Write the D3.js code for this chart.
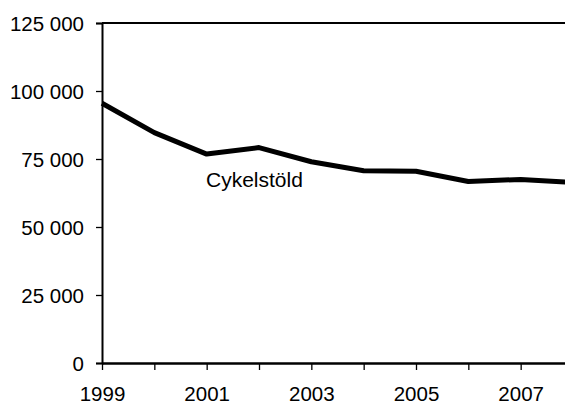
<!DOCTYPE html>
<html>
<head>
<meta charset="utf-8">
<script src="https://cdn.jsdelivr.net/npm/d3@7"></script>
<style>
  html, body { margin: 0; padding: 0; background: #fff; overflow: hidden; }
  svg { display: block; font-family: "Liberation Sans", Arial, sans-serif; }
</style>
</head>
<body>
<div id="chart"></div>
<script>
const years = [1999, 2000, 2001, 2002, 2003, 2004, 2005, 2006, 2007, 2008];
const theft = [95500, 84700, 76800, 79200, 74000, 70700, 70500, 66700, 67500, 66400];
const yTicks = [0, 25000, 50000, 75000, 100000, 125000];
const xTickLabels = [1999, 2001, 2003, 2005, 2007];
const seriesName = 'Cykelstöld';

const W = 565, H = 403;
const margin = { top: 23, left: 102, bottom: 40 };
const plotRight = 573; // plot runs a little past the picture edge

const svg = d3.select('#chart').append('svg')
  .attr('width', W)
  .attr('height', H);

const x = d3.scaleLinear()
  .domain([1999, 2008])
  .range([margin.left, plotRight]);

const y = d3.scaleLinear()
  .domain([0, 125000])
  .range([H - margin.bottom, margin.top]);

const fmt = v => d3.format(',')(v).replace(/,/g, ' ');

// frame top line
svg.append('line')
  .attr('x1', margin.left).attr('x2', plotRight)
  .attr('y1', y(125000)).attr('y2', y(125000))
  .attr('stroke', '#000').attr('stroke-width', 2);

// y axis
const yAxis = svg.append('g')
  .attr('transform', `translate(${margin.left},0)`)
  .call(d3.axisLeft(y).tickValues(yTicks).tickFormat(fmt).tickSize(6).tickPadding(12));
yAxis.attr('font-size', 20.5).attr('font-family', null);
yAxis.select('.domain').attr('stroke-width', 2);
yAxis.selectAll('.tick line').attr('stroke-width', 1.3);
yAxis.selectAll('text')
  .attr('fill', '#000')
  .attr('dy', '0.36em');

// x axis
const xAxis = svg.append('g')
  .attr('transform', `translate(0,${y(0)})`)
  .call(d3.axisBottom(x).tickValues(years).tickSize(7).tickSizeOuter(0)
    .tickFormat(d => xTickLabels.includes(d) ? d : ''));
xAxis.attr('font-size', 20.5).attr('font-family', null);
xAxis.select('.domain').attr('stroke-width', 2.5);
xAxis.selectAll('.tick line').attr('stroke-width', 1.3);
xAxis.selectAll('text')
  .attr('fill', '#000')
  .attr('y', 37.5)
  .attr('dy', 0);

// series
const data = years.map((yr, i) => ({ year: yr, value: theft[i] }));
svg.append('path')
  .datum(data)
  .attr('fill', 'none')
  .attr('stroke', '#000')
  .attr('stroke-width', 5)
  .attr('stroke-linejoin', 'round')
  .attr('d', d3.line()
    .x(d => x(d.year))
    .y(d => y(d.value)));

// series label
svg.append('text')
  .attr('x', 206)
  .attr('y', 187)
  .attr('font-size', 21)
  .text(seriesName);
</script>
</body>
</html>
